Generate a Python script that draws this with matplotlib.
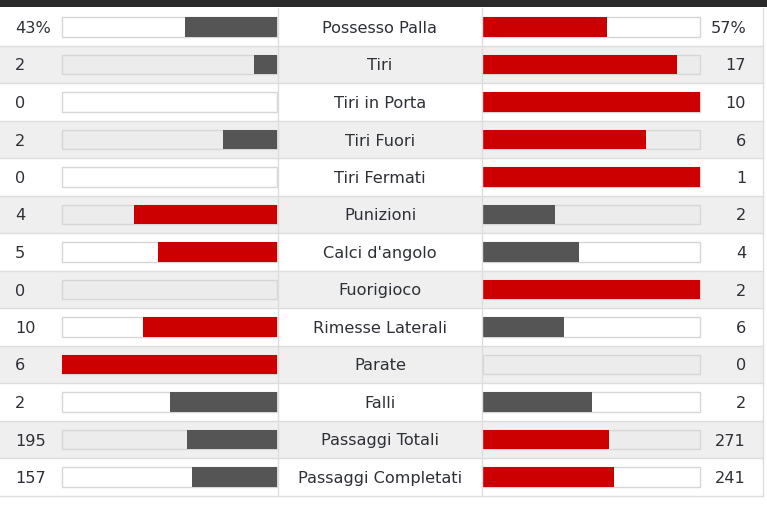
import matplotlib
matplotlib.use("Agg")
import matplotlib.pyplot as plt
from matplotlib.patches import Rectangle

categories = ["Possesso Palla", "Tiri", "Tiri in Porta", "Tiri Fuori", "Tiri Fermati",
              "Punizioni", "Calci d'angolo", "Fuorigioco", "Rimesse Laterali", "Parate",
              "Falli", "Passaggi Totali", "Passaggi Completati"]
home_values = [43, 2, 0, 2, 0, 4, 5, 0, 10, 6, 2, 195, 157]
away_values = [57, 17, 10, 6, 1, 2, 4, 2, 6, 0, 2, 271, 241]
home_labels = ["43%", "2", "0", "2", "0", "4", "5", "0", "10", "6", "2", "195", "157"]
away_labels = ["57%", "17", "10", "6", "1", "2", "4", "2", "6", "0", "2", "271", "241"]

RED = "#cc0000"
GREY = "#555555"
TEXT = "#2e3038"

W, H = 767, 512
fig = plt.figure(figsize=(W / 100, H / 100), dpi=100)
ax = fig.add_axes([0, 0, 1, 1])
ax.set_xlim(0, W)
ax.set_ylim(H, 0)
ax.axis("off")

row_h = 37.5
y0 = 27.0
top = 8.0
left_x0, left_x1 = 62, 277
right_x0, right_x1 = 483, 700
bar_h = 19.5
FS = 11.6

# top dark band
ax.add_patch(Rectangle((0, 0), W, 7, color="#2a2a2a", lw=0))

n = len(categories)
for i in range(n):
    yc = y0 + row_h * i
    ytop = yc - row_h / 2
    bg = "#ffffff" if i % 2 == 0 else "#efefef"
    ax.add_patch(Rectangle((0, ytop), 763, row_h, facecolor=bg, edgecolor="none"))
    ax.plot([0, 763], [ytop + row_h, ytop + row_h], color="#dddddd", lw=1)

# vertical separators
ax.plot([278, 278], [top, y0 + row_h * (n - 0.5)], color="#dddddd", lw=1)
ax.plot([482, 482], [top, y0 + row_h * (n - 0.5)], color="#dddddd", lw=1)
ax.plot([763, 763], [top, y0 + row_h * (n - 0.5)], color="#dddddd", lw=1)

ys = [y0 + row_h * i for i in range(n)]
track_fill = ["#ffffff" if i % 2 == 0 else "#ececec" for i in range(n)]
lw_track = left_x1 - left_x0
rw_track = right_x1 - right_x0

# tracks
ax.barh(ys, [lw_track] * n, left=left_x0, height=bar_h, color=track_fill,
        edgecolor="#d6d6d6", linewidth=1)
ax.barh(ys, [rw_track] * n, left=right_x0, height=bar_h, color=track_fill,
        edgecolor="#d6d6d6", linewidth=1)

home_frac = []
away_frac = []
home_col = []
away_col = []
for h, a in zip(home_values, away_values):
    tot = h + a
    home_frac.append(h / tot if tot else 0)
    away_frac.append(a / tot if tot else 0)
    home_col.append(RED if h > a else GREY)
    away_col.append(RED if a > h else GREY)

hw = [f * lw_track for f in home_frac]
aw = [f * rw_track for f in away_frac]
ax.barh(ys, hw, left=[left_x1 - w for w in hw], height=bar_h, color=home_col, linewidth=0)
ax.barh(ys, aw, left=right_x0, height=bar_h, color=away_col, linewidth=0)

for i in range(n):
    ax.text(15, ys[i] + 1.5, home_labels[i], ha="left", va="center", fontsize=FS,
            color=TEXT, family="DejaVu Sans")
    ax.text(746, ys[i] + 1.5, away_labels[i], ha="right", va="center", fontsize=FS,
            color=TEXT, family="DejaVu Sans")
    ax.text(380, ys[i] + 1.5, categories[i], ha="center", va="center", fontsize=FS,
            color=TEXT, family="DejaVu Sans")

fig.savefig("out.png", dpi=100)
